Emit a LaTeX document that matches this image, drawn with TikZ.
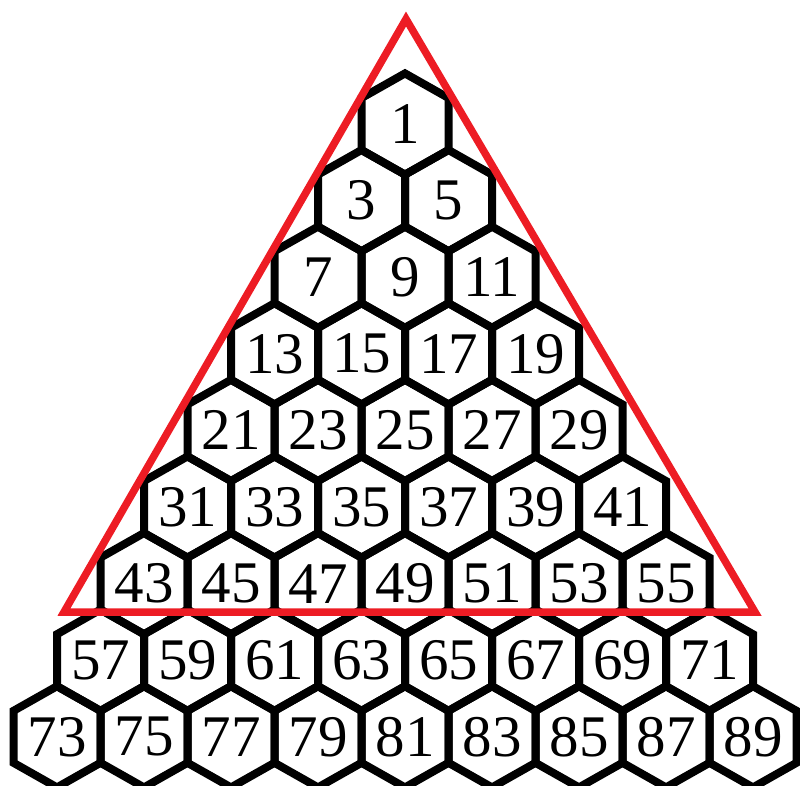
\documentclass[tikz,border=0pt]{standalone}
\usepackage{fontspec}
\setmainfont{Liberation Serif}
\definecolor{tribred}{HTML}{ED1C24}
\definecolor{cellink}{HTML}{000000}
\tikzset{
  hexline/.style={draw=cellink, line width=8pt, line join=miter},
  hexcell/.pic={
    \draw[hexline] (0,-50.6) -- (43.5,-26) -- (43.5,26) -- (0,50.6)
      -- (-43.5,26) -- (-43.5,-26) -- cycle;
  },
  oddnum/.style={font=\fontsize{59}{59}\selectfont, inner sep=0pt},
  redtri/.style={draw=tribred, line width=7.5pt, line join=miter}
}
\begin{document}
\begin{tikzpicture}[x=1pt, y=-1pt]

  % page frame, pixel units from the top left corner
  \useasboundingbox (0,0) rectangle (800,785);
  \clip (0,0) rectangle (800,785);

  % honeycomb of odd numbers, row r holds r cells
  \foreach \r in {1,...,9}{
    \foreach \i in {1,...,\r}{
      \pgfmathsetmacro{\cx}{405 + (\i - (\r+1)/2)*87}
      \pgfmathsetmacro{\cy}{124 + (\r-1)*76.6}
      \pgfmathtruncatemacro{\val}{\r*(\r-1) + 2*\i - 1}
      \pic at (\cx,\cy) {hexcell};
      \node[oddnum] (n\val) at (\cx,\cy) {\val};
    }
  }

  % red triangle round the first seven rows
  \coordinate (apex)  at (406,19);
  \coordinate (baseL) at (64,612);
  \coordinate (baseR) at (755,612);
  \draw[redtri] (apex) -- (baseR) -- (baseL) -- cycle;

\end{tikzpicture}
\end{document}
